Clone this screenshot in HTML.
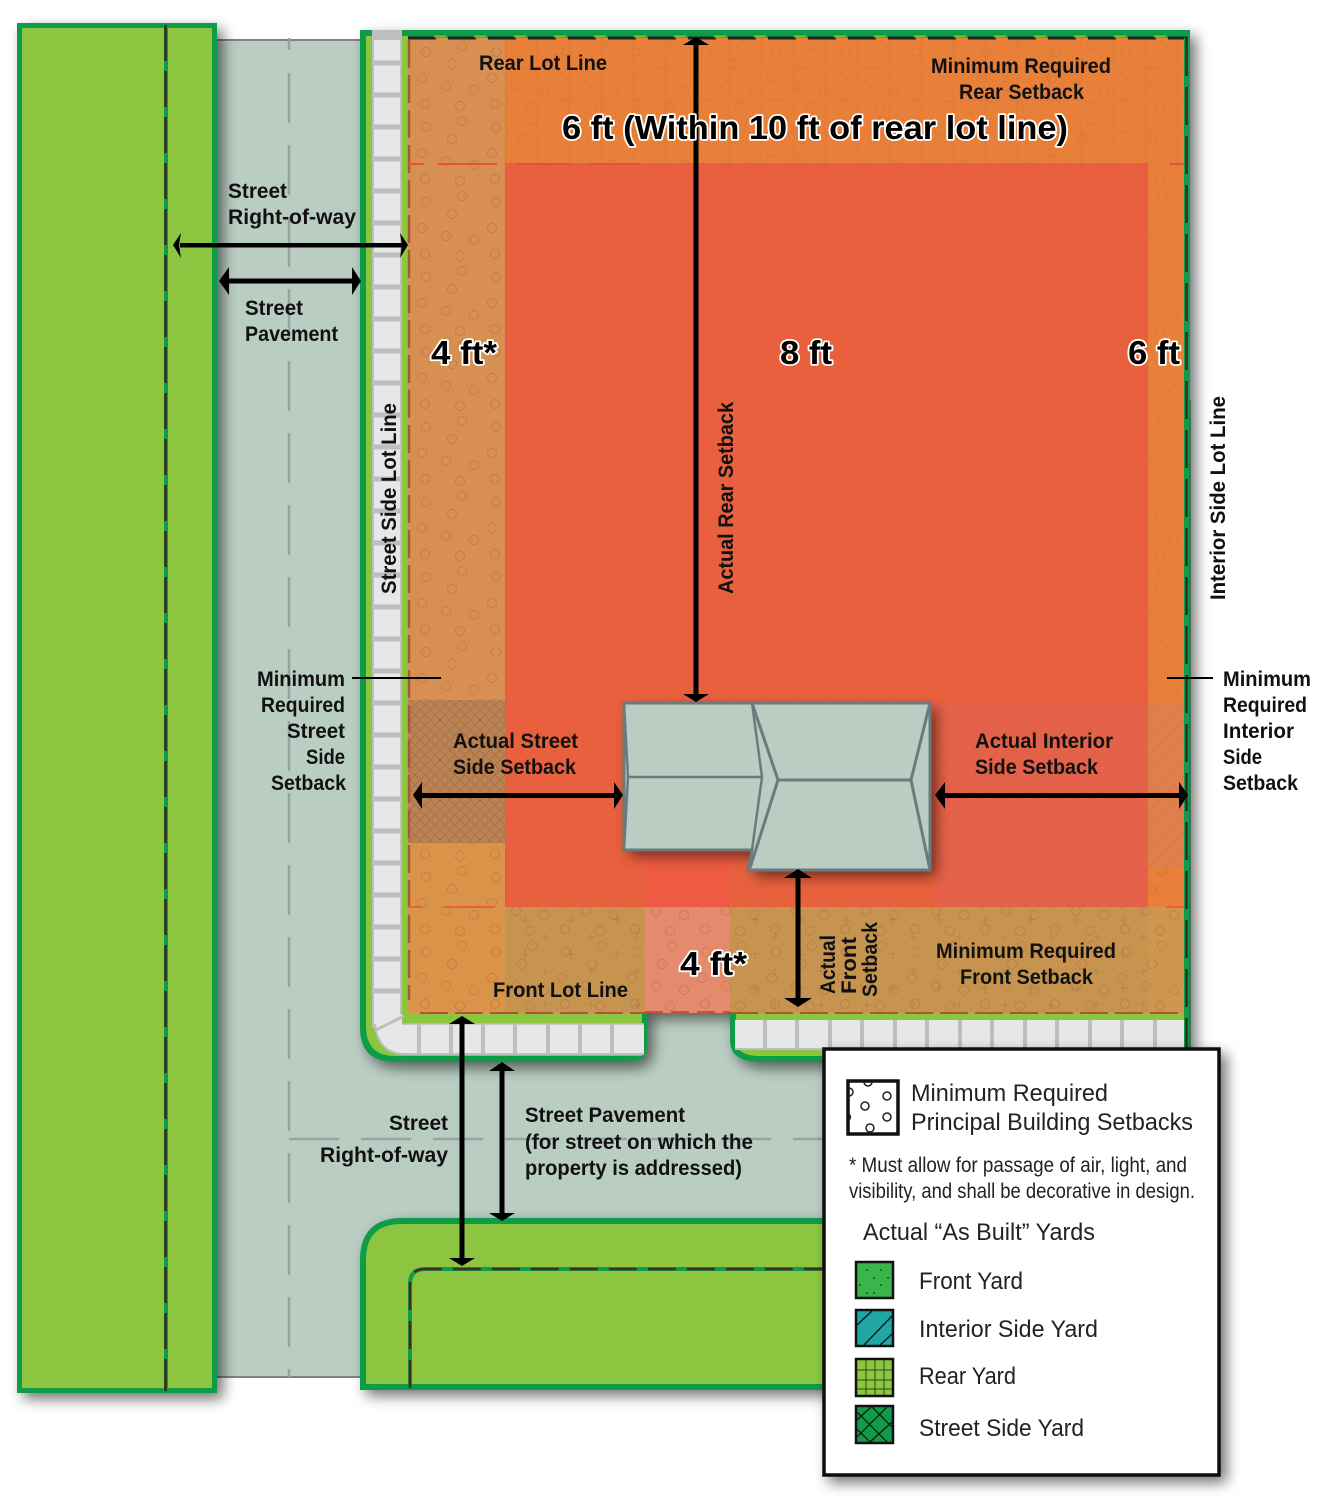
<!DOCTYPE html>
<html><head><meta charset="utf-8">
<style>
html,body{margin:0;padding:0;background:#fff}
svg{display:block}
text{font-family:"Liberation Sans",sans-serif;font-weight:bold;fill:#111}
.l{font-size:21px}
.b{font-size:33px;stroke:#fff;stroke-width:3.500px;paint-order:stroke;stroke-linejoin:round;fill:#000}
.n{font-weight:normal;fill:#222;font-size:24px}
</style></head><body>
<svg width="1343" height="1502" viewBox="0 0 1343 1502" xmlns="http://www.w3.org/2000/svg">
<defs>
<filter id="sh" x="-10%" y="-10%" width="125%" height="125%"><feGaussianBlur in="SourceAlpha" stdDeviation="7"/><feOffset dx="6" dy="6"/><feComponentTransfer><feFuncA type="linear" slope=".55"/></feComponentTransfer><feMerge><feMergeNode/><feMergeNode in="SourceGraphic"/></feMerge></filter>
<pattern id="dots" width="70" height="75" patternUnits="userSpaceOnUse" x="410" y="40">
<g fill="none" stroke="#a8623a" stroke-opacity=".42" stroke-width="1">
<circle cx="16" cy="12" r="4.5"/><circle cx="52" cy="6" r="4.5"/><circle cx="42" cy="24" r="4.5"/><circle cx="12" cy="38" r="4.5"/><circle cx="36" cy="46" r="4.5"/><circle cx="64" cy="50" r="4.5"/><circle cx="15" cy="64" r="4.5"/><circle cx="50" cy="66" r="4.5"/></g></pattern>
<pattern id="dotsf" width="70" height="75" patternUnits="userSpaceOnUse" x="410" y="40">
<g fill="none" stroke="#a8623a" stroke-opacity=".25" stroke-width="1">
<circle cx="16" cy="12" r="4.5"/><circle cx="52" cy="6" r="4.5"/><circle cx="42" cy="24" r="4.5"/><circle cx="12" cy="38" r="4.5"/><circle cx="36" cy="46" r="4.5"/><circle cx="64" cy="50" r="4.5"/><circle cx="15" cy="64" r="4.5"/><circle cx="50" cy="66" r="4.5"/></g></pattern>
<pattern id="grid" width="32" height="32" patternUnits="userSpaceOnUse" x="505" y="36"><path d="M0 0H32M0 0V32" stroke="#b5572a" stroke-opacity=".28" fill="none"/></pattern>
<pattern id="grid2" width="32" height="32" patternUnits="userSpaceOnUse" x="505" y="36"><path d="M0 0V32" stroke="#c9472c" stroke-opacity=".22" fill="none"/><path d="M0 0H32" stroke="#c9472c" stroke-opacity=".1" fill="none"/></pattern>
<pattern id="cross" width="10" height="10" patternUnits="userSpaceOnUse"><path d="M0 0L10 10M10 0L0 10" stroke="#8a5a3f" stroke-opacity=".4" fill="none"/></pattern>
<pattern id="hatch" width="14" height="14" patternUnits="userSpaceOnUse"><path d="M0 14L14 0M-3 3L3 -3M11 17L17 11" stroke="#c9472c" stroke-opacity=".14" fill="none"/></pattern>
<pattern id="plus" width="46" height="34" patternUnits="userSpaceOnUse" x="505" y="907"><path d="M20 8V18M15 13H25M40 26V34M36 30H44" stroke="#9a6a3a" stroke-opacity=".4" fill="none"/></pattern>
</defs>

<!-- road -->
<rect x="217" y="40" width="150" height="1337" fill="#b9cdc3"/>
<rect x="360" y="1000" width="480" height="240" fill="#b9cdc3"/>
<path d="M217 40H362M217 1377H362" stroke="#808285" stroke-width="2"/>
<path d="M289 38V1377" stroke="#97a3a2" stroke-width="2.5" stroke-dasharray="12 23 50 22 50 22 50 22 50 22 50 22 50 22 50 22 50 22 50 22 50 22 50 22 50 22 50 22 50 22 50 22 50 22 50 22 50 22 50 22 50 22"/>
<path d="M289 1139H825" stroke="#97a3a2" stroke-width="2.5" stroke-dasharray="50 22"/>

<!-- left block -->
<g filter="url(#sh)"><rect x="19.500" y="25.500" width="195" height="1365" fill="#8cc63f" stroke="#0f9d4a" stroke-width="5"/></g>
<path d="M166 25V1391" stroke="#0f9d4a" stroke-width="4"/>
<path d="M165.500 25V1391" stroke="#3a2b1e" stroke-width="2.500" stroke-dasharray="36 10"/>

<!-- main block -->
<g filter="url(#sh)"><path d="M360 30H1190V1062H760Q730 1062 730 1040V1013H647V1045Q647 1062 628 1062H395Q360 1062 360 1028Z" fill="#0f9d4a"/></g>
<path d="M366 36H408V1013H642V1056H395Q366 1056 366 1026Z" fill="#8cc63f"/>
<path d="M736 1013H1184V1056H760Q736 1056 736 1040Z" fill="#8cc63f"/>
<!-- sidewalk vertical -->
<rect x="372" y="30" width="30" height="998" fill="#bcbec0"/>
<rect x="374" y="40" width="26" height="988" fill="#e6e7e8"/>
<path d="M374 63H400M374 95H400M374 127H400M374 159H400M374 191H400M374 223H400M374 255H400M374 287H400M374 319H400M374 351H400M374 383H400M374 415H400M374 447H400M374 479H400M374 511H400M374 543H400M374 575H400M374 607H400M374 639H400M374 671H400M374 703H400M374 735H400M374 767H400M374 799H400M374 831H400M374 863H400M374 895H400M374 927H400M374 959H400M374 991H400" stroke="#bcbec0" stroke-width="5"/>
<!-- sidewalk corner + bottom -->
<path d="M374 1014H402V1024H644V1054H405Q378 1054 374 1024Z" fill="#e6e7e8"/>
<path d="M376 1030L404 1016" stroke="#bcbec0" stroke-width="3"/>
<path d="M419 1024V1054M451 1024V1054M483 1024V1054M515 1024V1054M548 1024V1054M580 1024V1054M612 1024V1054" stroke="#bcbec0" stroke-width="4"/>
<path d="M402 1024H644" stroke="#bcbec0" stroke-width="1.500"/>
<path d="M375 1024Q378 1054 405 1054H644" stroke="#bcbec0" stroke-width="2" fill="none"/>
<rect x="735" y="1020" width="450" height="28" fill="#e6e7e8"/>
<path d="M765 1020V1048M797 1020V1048M830 1020V1048M862 1020V1048M895 1020V1048M927 1020V1048M960 1020V1048M992 1020V1048M1025 1020V1048M1057 1020V1048M1090 1020V1048M1122 1020V1048M1155 1020V1048" stroke="#bcbec0" stroke-width="4"/>
<path d="M735 1049H1185" stroke="#bcbec0" stroke-width="2"/>

<!-- lot fills -->
<path d="M408 38H1184V1013H422Q408 1013 408 999Z" fill="#e8803a"/>
<rect x="408" y="38" width="97" height="662" fill="#d78f52"/>
<rect x="408" y="843" width="97" height="170" fill="#db9349"/>
<rect x="505" y="38" width="679" height="125" fill="url(#grid)"/>
<rect x="505" y="907" width="679" height="106" fill="#c79450"/>
<rect x="505" y="907" width="679" height="106" fill="url(#plus)"/>
<rect x="1148" y="907" width="36" height="106" fill="#d0954f"/>
<rect x="645" y="907" width="85" height="106" fill="#e58b6d"/>
<!-- circles only in setback bands -->
<rect x="408" y="38" width="97" height="662" fill="url(#dots)"/>
<rect x="408" y="843" width="97" height="170" fill="url(#dots)"/>
<rect x="505" y="38" width="679" height="125" fill="url(#dotsf)"/>
<rect x="1148" y="163" width="36" height="540" fill="url(#dotsf)"/>
<rect x="1148" y="868" width="36" height="145" fill="url(#dots)"/>
<rect x="505" y="907" width="643" height="106" fill="url(#dots)"/>
<!-- hatched side yards -->
<rect x="408" y="700" width="97" height="143" fill="#bb8352"/>
<rect x="408" y="700" width="97" height="143" fill="url(#cross)"/>
<rect x="505" y="163" width="643" height="744" fill="#e8603d"/>
<rect x="505" y="163" width="643" height="744" fill="url(#grid2)"/>
<rect x="936" y="703" width="212" height="204" fill="#e4614a"/>
<rect x="936" y="703" width="212" height="204" fill="url(#hatch)"/>
<rect x="1148" y="703" width="36" height="165" fill="#de7f4d"/>
<rect x="1148" y="703" width="36" height="165" fill="url(#hatch)"/>
<rect x="645" y="850" width="85" height="57" fill="#ee5b42"/>

<!-- lot lines -->
<path d="M409 40V1000" stroke="#a9563a" stroke-width="2.500" stroke-dasharray="28 7" fill="none"/>
<path d="M420 1013H645M730 1013H1184" stroke="#a9563a" stroke-width="2" stroke-dasharray="28 7"/>
<path d="M645 1012H730" stroke="#c8503a" stroke-width="2" stroke-dasharray="18 8"/>
<path d="M408 38H1188" stroke="#222" stroke-width="3" stroke-dasharray="28 12"/>
<path d="M408 36.500H1188" stroke="#8cc63f" stroke-width="2" stroke-dasharray="12 28" stroke-dashoffset="-26" opacity=".9"/>
<rect x="1184" y="38" width="6" height="1010" fill="#0f9d4a"/>
<path d="M1186.500 38V1048" stroke="#3a2b1e" stroke-width="2.500" stroke-dasharray="38 11"/>
<path d="M1190 400V1048" stroke="#2b6b4a" stroke-width="1.500"/>
<path d="M408 164H424M438 164H497M515 164H570M590 164H640" stroke="#e8503a" stroke-width="2"/>
<path d="M1170 164H1184" stroke="#e8503a" stroke-width="2"/>
<path d="M408 907H422M444 907H495" stroke="#e8603a" stroke-width="2"/>
<path d="M1166 907H1184" stroke="#e8603a" stroke-width="2"/>

<!-- house -->
<g filter="url(#sh)"><path d="M624 703H930V870H748L752 850H624Z" fill="#b9cdc3"/></g>
<path d="M624 703H930V870H748L752 850H624Z" fill="none" stroke="#6d7a7d" stroke-width="3"/>
<path d="M624 703L628 777L624 850M628 777H762M752 703L762 777L752 850" fill="none" stroke="#6d7a7d" stroke-width="2.500"/>
<path d="M752 703L778 780L750 868M778 780H911M930 703L911 780L930 870" fill="none" stroke="#6d7a7d" stroke-width="3"/>

<!-- bottom block -->
<g filter="url(#sh)"><path d="M363 1387V1260Q363 1221 402 1221H830V1387Z" fill="#8cc63f" stroke="#0f9d4a" stroke-width="6"/></g>
<path d="M410 1388V1284Q410 1269 425 1269H830" fill="none" stroke="#0f9d4a" stroke-width="4"/>
<path d="M410 1388V1284Q410 1269 425 1269H830" fill="none" stroke="#4a2a1e" stroke-width="2.500" stroke-dasharray="28 11"/>

<!-- arrows -->
<g fill="#000" stroke="none">
<rect x="180" y="243" width="222" height="4.500"/><path d="M173 245L181 233L179 245L181 258ZM408 245L400 233L402 245L400 258Z"/>
<rect x="226" y="278.500" width="130" height="5"/><path d="M219 281L229 267V295ZM361 281L352 267V295Z"/>
<rect x="420" y="793" width="196" height="5"/><path d="M413 795L422 782V809ZM623 795L614 782V809Z"/>
<rect x="942" y="793" width="240" height="5"/><path d="M935 795L945 782V809ZM1188 795L1179 782V809Z"/>
<rect x="693.500" y="44" width="5" height="652"/><path d="M696 37L683 45H709ZM696 702L683 694H709Z"/>
<rect x="795.500" y="876" width="5" height="125"/><path d="M798 869L784 878H812ZM798 1007L784 998H812Z"/>
<rect x="459.500" y="1023" width="5" height="237"/><path d="M462 1016L449 1024H475ZM462 1266L449 1258H475Z"/>
<rect x="499.500" y="1069" width="5" height="146"/><path d="M502 1062L489 1071H515ZM502 1221L489 1213H515Z"/>
<rect x="352" y="677" width="89" height="2"/><rect x="1167" y="677" width="46" height="2"/>
</g>

<!-- labels -->
<g class="l">
<text x="479" y="70" textLength="128" lengthAdjust="spacingAndGlyphs">Rear Lot Line</text>
<text x="931" y="73" textLength="180" lengthAdjust="spacingAndGlyphs">Minimum Required</text>
<text x="959" y="99" textLength="125" lengthAdjust="spacingAndGlyphs">Rear Setback</text>
<text x="228" y="198" textLength="59" lengthAdjust="spacingAndGlyphs">Street</text>
<text x="228" y="224" textLength="128" lengthAdjust="spacingAndGlyphs">Right-of-way</text>
<text x="245" y="315" textLength="58" lengthAdjust="spacingAndGlyphs">Street</text>
<text x="245" y="341" textLength="93" lengthAdjust="spacingAndGlyphs">Pavement</text>
<text x="257" y="686" textLength="88" lengthAdjust="spacingAndGlyphs">Minimum</text>
<text x="261" y="712" textLength="84" lengthAdjust="spacingAndGlyphs">Required</text>
<text x="287" y="738" textLength="58" lengthAdjust="spacingAndGlyphs">Street</text>
<text x="306" y="764" textLength="39" lengthAdjust="spacingAndGlyphs">Side</text>
<text x="271" y="790" textLength="75" lengthAdjust="spacingAndGlyphs">Setback</text>
<text x="1223" y="686" textLength="88" lengthAdjust="spacingAndGlyphs">Minimum</text>
<text x="1223" y="712" textLength="84" lengthAdjust="spacingAndGlyphs">Required</text>
<text x="1223" y="738" textLength="71" lengthAdjust="spacingAndGlyphs">Interior</text>
<text x="1223" y="764" textLength="39" lengthAdjust="spacingAndGlyphs">Side</text>
<text x="1223" y="790" textLength="75" lengthAdjust="spacingAndGlyphs">Setback</text>
<text x="453" y="748" textLength="125" lengthAdjust="spacingAndGlyphs">Actual Street</text>
<text x="453" y="774" textLength="123" lengthAdjust="spacingAndGlyphs">Side Setback</text>
<text x="975" y="748" textLength="138" lengthAdjust="spacingAndGlyphs">Actual Interior</text>
<text x="975" y="774" textLength="123" lengthAdjust="spacingAndGlyphs">Side Setback</text>
<text x="936" y="958" textLength="180" lengthAdjust="spacingAndGlyphs">Minimum Required</text>
<text x="960" y="984" textLength="133" lengthAdjust="spacingAndGlyphs">Front Setback</text>
<text x="493" y="997" textLength="135" lengthAdjust="spacingAndGlyphs">Front Lot Line</text>
<text x="389" y="1130" textLength="59" lengthAdjust="spacingAndGlyphs">Street</text>
<text x="320" y="1162" textLength="128" lengthAdjust="spacingAndGlyphs">Right-of-way</text>
<text x="525" y="1122" textLength="160" lengthAdjust="spacingAndGlyphs">Street Pavement</text>
<text x="525" y="1149" textLength="228" lengthAdjust="spacingAndGlyphs">(for street on which the</text>
<text x="525" y="1175" textLength="217" lengthAdjust="spacingAndGlyphs">property is addressed)</text>
<text transform="translate(396 594) rotate(-90)" textLength="191" lengthAdjust="spacingAndGlyphs">Street Side Lot Line</text>
<text transform="translate(733 594) rotate(-90)" textLength="192" lengthAdjust="spacingAndGlyphs">Actual Rear Setback</text>
<text transform="translate(1225 600) rotate(-90)" textLength="204" lengthAdjust="spacingAndGlyphs">Interior Side Lot Line</text>
<text transform="translate(835 994) rotate(-90)" textLength="59" lengthAdjust="spacingAndGlyphs">Actual</text>
<text transform="translate(856 994) rotate(-90)" textLength="57" lengthAdjust="spacingAndGlyphs">Front</text>
<text transform="translate(877 997) rotate(-90)" textLength="75" lengthAdjust="spacingAndGlyphs">Setback</text>
</g>
<text class="b" x="562" y="139" textLength="506" lengthAdjust="spacingAndGlyphs">6 ft (Within 10 ft of rear lot line)</text>
<text class="b" x="431" y="364" textLength="66" lengthAdjust="spacingAndGlyphs">4 ft*</text>
<text class="b" x="780" y="364" textLength="52" lengthAdjust="spacingAndGlyphs">8 ft</text>
<text class="b" x="1128" y="364" textLength="52" lengthAdjust="spacingAndGlyphs">6 ft</text>
<text class="b" x="680" y="975" textLength="67" lengthAdjust="spacingAndGlyphs">4 ft*</text>

<!-- legend -->
<g filter="url(#sh)"><rect x="824" y="1049" width="395" height="426" fill="#fff" stroke="#111" stroke-width="3.500"/></g>
<rect x="848" y="1081" width="50" height="53" fill="#fff" stroke="#111" stroke-width="3.500"/>
<g fill="none" stroke="#222" stroke-width="1.500"><circle cx="887" cy="1096" r="4"/><circle cx="865" cy="1106" r="4"/><circle cx="887" cy="1117" r="4"/><circle cx="870" cy="1128" r="4"/><path d="M864 1082A4 4 0 0 0 872 1082M849 1088A4 4 0 0 1 849 1096M849 1114A4 4 0 0 1 849 1120"/></g>
<text class="n" x="911" y="1101" textLength="197" lengthAdjust="spacingAndGlyphs">Minimum Required</text>
<text class="n" x="911" y="1130" textLength="282" lengthAdjust="spacingAndGlyphs">Principal Building Setbacks</text>
<text class="n" style="font-size:21px" x="849" y="1172" textLength="338" lengthAdjust="spacingAndGlyphs">* Must allow for passage of air, light, and</text>
<text class="n" style="font-size:21px" x="849" y="1198" textLength="346" lengthAdjust="spacingAndGlyphs">visibility, and shall be decorative in design.</text>
<text class="n" x="863" y="1240" textLength="232" lengthAdjust="spacingAndGlyphs">Actual “As Built” Yards</text>

<rect x="856" y="1262" width="37" height="36" fill="#39b54a" stroke="#111" stroke-width="2.500"/>
<g fill="#0b5a2a"><circle cx="867" cy="1270" r="1"/><circle cx="881" cy="1270" r="1"/><circle cx="874" cy="1278" r="1"/><circle cx="888" cy="1278" r="1"/><circle cx="860" cy="1285" r="1"/><circle cx="881" cy="1285" r="1"/><circle cx="867" cy="1293" r="1"/><circle cx="874" cy="1293" r="1"/></g>
<rect x="856" y="1310" width="37" height="36" fill="#1fa7a5" stroke="#111" stroke-width="2.500"/>
<path d="M857 1325L872 1311M864 1345L892 1316M880 1345L892 1334" stroke="#111" stroke-width="1.300"/>
<rect x="856" y="1359" width="37" height="37" fill="#8cc63f" stroke="#111" stroke-width="2.500"/>
<path d="M866 1360V1395M875 1360V1395M884 1360V1395M857 1370H892M857 1380H892M857 1389H892" stroke="#2a4a1a" stroke-width="1"/>
<rect x="856" y="1406" width="37" height="37" fill="#129a4a" stroke="#111" stroke-width="2.500"/>
<path d="M857 1420L871 1407M857 1437L887 1407M870 1442L892 1422M872 1407L892 1427M857 1412L887 1442M857 1429L870 1442" stroke="#111" stroke-width="1.200"/>

<text class="n" x="919" y="1289" textLength="104" lengthAdjust="spacingAndGlyphs">Front Yard</text>
<text class="n" x="919" y="1337" textLength="179" lengthAdjust="spacingAndGlyphs">Interior Side Yard</text>
<text class="n" x="919" y="1384" textLength="97" lengthAdjust="spacingAndGlyphs">Rear Yard</text>
<text class="n" x="919" y="1436" textLength="165" lengthAdjust="spacingAndGlyphs">Street Side Yard</text>
</svg>
</body></html>
